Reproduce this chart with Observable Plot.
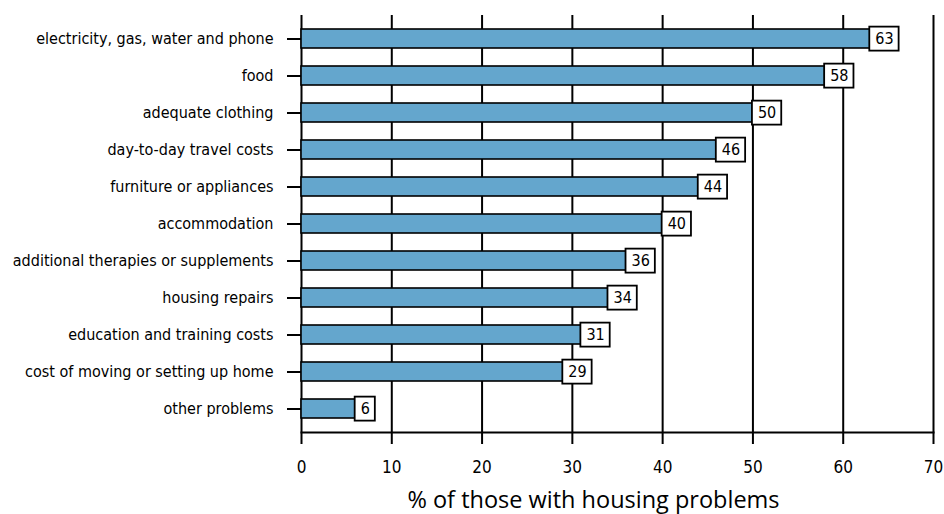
<!DOCTYPE html>
<html>
<head>
<meta charset="utf-8">
<script src="https://cdn.jsdelivr.net/npm/d3@7"></script>
<script src="https://cdn.jsdelivr.net/npm/@observablehq/plot@0.6"></script>
<style>
  html, body { margin: 0; padding: 0; background: white; }
</style>
</head>
<body>
<div id="chart"></div>
<script>
const categories = [
  "electricity, gas, water and phone",
  "food",
  "adequate clothing",
  "day-to-day travel costs",
  "furniture or appliances",
  "accommodation",
  "additional therapies or supplements",
  "housing repairs",
  "education and training costs",
  "cost of moving or setting up home",
  "other problems"
];
const values = [63, 58, 50, 46, 44, 40, 36, 34, 31, 29, 6];
const xTicks = [0, 10, 20, 30, 40, 50, 60, 70];
const xLabel = "% of those with housing problems";

const data = categories.map((c, i) => ({category: c, value: values[i]}));
const condensed = "'DejaVu Sans Condensed', 'Liberation Sans Narrow', sans-serif";

const plot = Plot.plot({
  width: 944,
  height: 514,
  marginTop: 15,
  marginBottom: 82,
  marginLeft: 301,
  marginRight: 11,
  style: {fontFamily: condensed, fontSize: "16px", color: "black", background: "white", overflow: "visible"},
  x: {domain: [0, 70]},
  y: {domain: categories, paddingInner: 0.5, paddingOuter: 0.25},
  marks: [
    Plot.ruleX(xTicks, {stroke: "black", strokeWidth: 2}),
    Plot.frame({anchor: "bottom", stroke: "black", strokeWidth: 2}),
    Plot.barX(data, {x: "value", y: "category", fill: "#64a6cd", stroke: "black", strokeWidth: 1.6}),
    Plot.axisY({tickSize: 14, tickPadding: 14, label: null, strokeWidth: 2, fontSize: 16}),
    Plot.axisX({ticks: xTicks, tickSize: 12, tickPadding: 16, label: null, strokeWidth: 2, fontSize: 17}),
    Plot.text(data, {x: "value", y: "category", text: d => String(d.value), textAnchor: "start", dx: 5, fill: "black", fontSize: 16, className: "vlabel"}),
    Plot.text([xLabel], {frameAnchor: "bottom", dx: -24, dy: 75, fontFamily: "'Open Sans', sans-serif", fontSize: 23.5, fill: "black"})
  ]
});
document.getElementById("chart").appendChild(plot);

// white boxes behind value labels
d3.select(plot).selectAll("g.vlabel text").each(function() {
  const b = this.getBBox();
  const t = this.getAttribute("transform");
  const r = document.createElementNS("http://www.w3.org/2000/svg", "rect");
  r.setAttribute("x", b.x - 6);
  r.setAttribute("y", b.y + b.height / 2 - 12);
  r.setAttribute("width", b.width + 11);
  r.setAttribute("height", 24);
  r.setAttribute("fill", "white");
  r.setAttribute("stroke", "black");
  r.setAttribute("stroke-width", 1.8);
  if (t) r.setAttribute("transform", t);
  this.parentNode.insertBefore(r, this);
});
</script>
</body>
</html>
